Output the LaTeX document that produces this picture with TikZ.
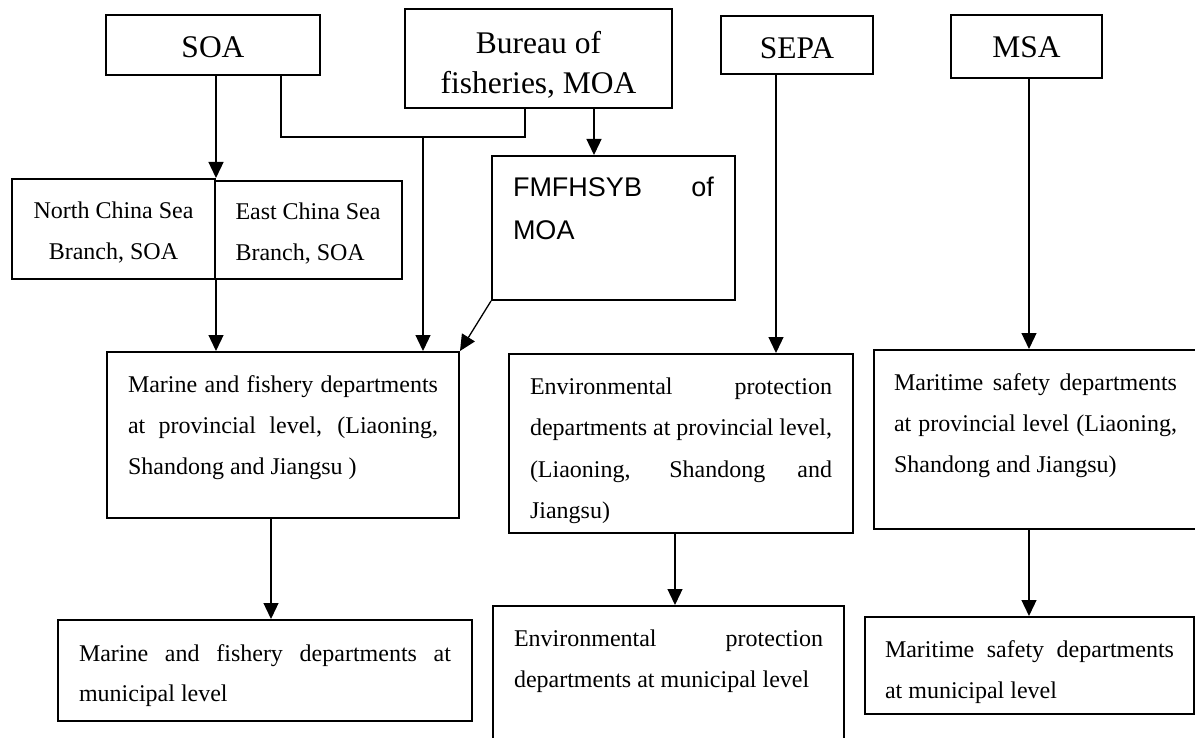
\documentclass[tikz,border=0pt]{standalone}
\usepackage{fontspec}
\setmainfont{Liberation Serif}
\newfontfamily\arialf{Liberation Sans}
\usetikzlibrary{arrows.meta}
\newcommand{\bt}[5]{\begin{minipage}[t][#2][t]{#1}#4\rule{0pt}{#3}#5\end{minipage}}
\newcommand{\jline}[1]{\makebox[\linewidth][s]{#1}\\}
\newcommand{\ftop}{\fontsize{31.5}{40}\selectfont}
\newcommand{\fbody}{\fontsize{24}{41}\selectfont}
\tikzset{
  box/.style={draw, line width=2pt, anchor=north west, inner xsep=21pt, inner ysep=0pt},
  conn/.style={line width=1.3pt},
  arr/.style={conn, -{Triangle[length=16pt,width=15pt]}},
}
\begin{document}
\begin{tikzpicture}[x=1pt,y=-1pt]
\useasboundingbox (0,0) rectangle (1195,738);
% top level
\node[box, inner xsep=0pt] (SOA) at (105,14) {\bt{214pt}{60pt}{43pt}{\ftop\centering}{SOA}};
\node[box, inner xsep=0pt] (BUR) at (404,8) {\bt{267pt}{99pt}{45pt}{\ftop\centering}{Bureau of\\fisheries, MOA}};
\node[box, inner xsep=0pt] (SEPA) at (720,15) {\bt{152pt}{58pt}{43pt}{\ftop\centering}{SEPA}};
\node[box, inner xsep=0pt] (MSA) at (950,14) {\bt{151pt}{63pt}{43pt}{\ftop\centering}{MSA}};
% second level
\node[box, inner xsep=0pt] (NCS) at (11,178) {\bt{203pt}{100pt}{40pt}{\fbody\centering}{North China Sea\\Branch, SOA}};
\node[box] (ECS) at (213.5,180) {\bt{145pt}{98pt}{39pt}{\fbody\raggedright}{East China Sea\\Branch, SOA}};
\node[box] (FM) at (491,155) {\bt{201pt}{144pt}{41pt}{\arialf\fontsize{27}{43}\selectfont}{\jline{FMFHSYB of}MOA}};
% provincial level
\node[box] (MP) at (106,351) {\bt{310pt}{166pt}{40pt}{\fbody}{\jline{Marine and fishery departments}\jline{at provincial level, (Liaoning,}Shandong and Jiangsu )}};
\node[box] (EP) at (508,353) {\bt{302pt}{179pt}{40pt}{\fontsize{24}{41.5}\selectfont}{\jline{Environmental protection}\jline{departments at provincial level,}\jline{(Liaoning, Shandong and}Jiangsu)}};
\node[box, inner xsep=20pt] (MTP) at (873,349) {\bt{283pt}{179pt}{40pt}{\fbody}{\jline{Maritime safety departments}\jline{at provincial level (Liaoning,}Shandong and Jiangsu)}};
% municipal level
\node[box] (MM) at (57,619) {\bt{372pt}{101pt}{41pt}{\fontsize{24}{40}\selectfont}{\jline{Marine and fishery departments at}municipal level}};
\node[box] (EM) at (492,605) {\bt{309pt}{140pt}{40pt}{\fbody}{\jline{Environmental protection}departments at municipal level}};
\node[box, inner xsep=20pt] (MTM) at (864,616) {\bt{289pt}{97pt}{40pt}{\fbody}{\jline{Maritime safety departments}at municipal level}};
% junction coordinates
\coordinate (jL) at (281,137);
\coordinate (jR) at (525,137);
\coordinate (jM) at (423,137);
\coordinate (xBF) at (594,0);
\coordinate (xSE) at (776,0);
\coordinate (xMS) at (1029,0);
\coordinate (xMP) at (271,0);
\coordinate (xEP) at (675,0);
% connectors
\draw[arr] (SOA.south -| NCS.north east) -- (NCS.north east);
\draw[arr] (NCS.south east) -- (NCS.south east |- MP.north);
\draw[conn] (SOA.south -| jL) -- (jL) -- (jR) -- (BUR.south -| jR);
\draw[arr] (jM) -- (jM |- MP.north);
\draw[arr] (BUR.south -| xBF) -- (FM.north -| xBF);
\draw[arr] (FM.south west) -- (MP.north east);
\draw[arr] (SEPA.south -| xSE) -- (EP.north -| xSE);
\draw[arr] (MSA.south -| xMS) -- (MTP.north -| xMS);
\draw[arr] (MP.south -| xMP) -- (MM.north -| xMP);
\draw[arr] (EP.south -| xEP) -- (EM.north -| xEP);
\draw[arr] (MTP.south -| xMS) -- (MTM.north -| xMS);
\end{tikzpicture}
\end{document}
